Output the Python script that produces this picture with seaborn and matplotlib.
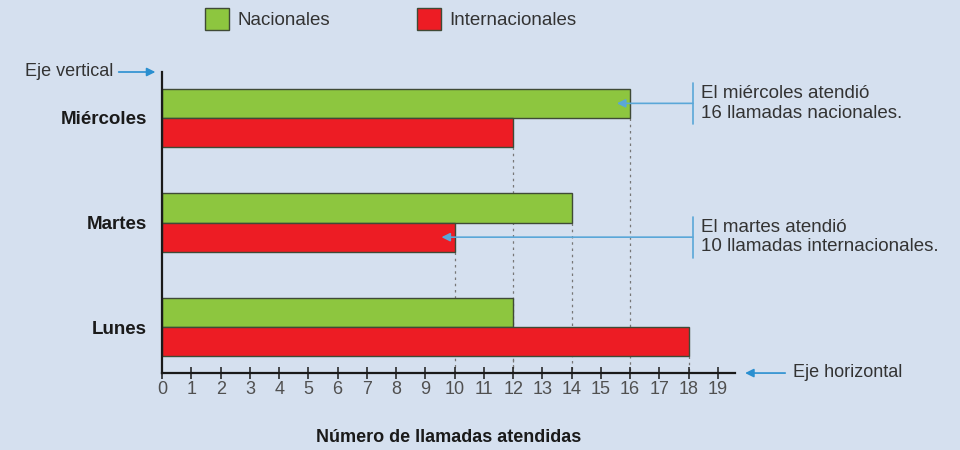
import numpy as np
import pandas as pd
import matplotlib
matplotlib.use("Agg")
import matplotlib.pyplot as plt
import seaborn as sns

# Data
dias = ["Miércoles", "Martes", "Lunes"]
nacionales = [16, 14, 12]
internacionales = [12, 10, 18]
tipos = ["Nacionales", "Internacionales"]
xticks = list(range(0, 20))

df = pd.DataFrame({
    "dia": dias * 2,
    "tipo": [tipos[0]] * 3 + [tipos[1]] * 3,
    "llamadas": nacionales + internacionales,
})

bg = "#d5e0ef"
verde = "#8dc63f"
rojo = "#ed1c24"
azul = "#2a8fd0"

sns.set_style("white")
plt.rcParams["font.family"] = ["Liberation Sans", "DejaVu Sans"]

fig = plt.figure(figsize=(9.6, 4.5), dpi=100, facecolor=bg)
ax = fig.add_axes([0.169, 0.171, 0.597, 0.669])
ax.set_facecolor(bg)

sns.barplot(
    data=df, y="dia", x="llamadas", hue="tipo", order=dias, hue_order=tipos,
    palette=[verde, rojo], orient="h", width=0.56, edgecolor="#3f4a36",
    linewidth=1, saturation=1, ax=ax,
)

ax.set_xlim(0, 19.6)
ax.set_ylim(2.44, -0.44)

# dotted guide lines from each bar end down to the axis
for p in ax.patches:
    w = p.get_width()
    if w <= 0:
        continue
    y_bottom = p.get_y() + p.get_height()
    ax.vlines(w, y_bottom, 2.44, colors="#777777", linestyles=(0, (2, 3)),
              linewidth=0.9, zorder=0)

# spines / ticks
sns.despine(ax=ax)
ax.spines["left"].set_linewidth(1.6)
ax.spines["bottom"].set_linewidth(1.6)
ax.spines["left"].set_color("#1a1a1a")
ax.spines["bottom"].set_color("#1a1a1a")
ax.set_xticks(xticks)
ax.set_xticklabels([str(t) for t in xticks])
ax.tick_params(axis="x", bottom=True, direction="inout", length=8, width=1.1,
               colors="#1a1a1a", labelcolor="#505050", labelsize=13, pad=2)
ax.tick_params(axis="y", left=False, length=0, pad=11, labelsize=13.5)
for lbl in ax.get_yticklabels():
    lbl.set_fontweight("bold")
    lbl.set_color("#1a1a1a")
ax.set_ylabel("")
ax.set_xlabel("Número de llamadas atendidas", fontsize=13, fontweight="bold",
              color="#1a1a1a", labelpad=22)

# legend
sns.move_legend(ax, "upper left", bbox_to_anchor=(0.196, 1.02),
                bbox_transform=fig.transFigure, ncol=2, frameon=False, title=None,
                fontsize=13.5, handlelength=1.3, handleheight=1.45,
                handletextpad=0.45, columnspacing=4.6)
for t in ax.get_legend().get_texts():
    t.set_color("#333333")

# annotations
notas = [
    (dias.index("Miércoles"), nacionales[0], -0.14,
     "El miércoles atendió\n16 llamadas nacionales."),
    (dias.index("Martes"), internacionales[1], 0.14,
     "El martes atendió\n10 llamadas internacionales."),
]
xb = 18.15
for i, val, off, texto in notas:
    yc = i + off
    ax.plot([xb, xb], [yc - 0.19, yc + 0.2], color="#5aa7d8", lw=1.2, clip_on=False)
    ax.annotate("", xy=(val - 0.45, yc), xytext=(xb, yc),
                arrowprops=dict(arrowstyle="-|>,head_length=0.5,head_width=0.25",
                                color="#5aa7d8", lw=1.2, shrinkA=0, shrinkB=0))
    ax.text(xb + 0.28, yc, texto, va="center", ha="left", fontsize=13.5,
            color="#333333", linespacing=1.2)

# axis name arrows
ax.annotate("", xy=(-0.012, 1.0), xytext=(-0.076, 1.0), xycoords="axes fraction",
            arrowprops=dict(arrowstyle="-|>,head_length=0.5,head_width=0.25",
                            color=azul, lw=1.2, shrinkA=0, shrinkB=0))
ax.text(-0.086, 1.0, "Eje vertical", transform=ax.transAxes, ha="right",
        va="center", fontsize=13, color="#333333")
ax.annotate("", xy=(1.017, 0.0), xytext=(1.087, 0.0), xycoords="axes fraction",
            arrowprops=dict(arrowstyle="-|>,head_length=0.5,head_width=0.25",
                            color=azul, lw=1.2, shrinkA=0, shrinkB=0))
ax.text(1.10, 0.003, "Eje horizontal", transform=ax.transAxes, ha="left",
        va="center", fontsize=13, color="#333333")

fig.savefig("out.png", dpi=100, facecolor=bg)
